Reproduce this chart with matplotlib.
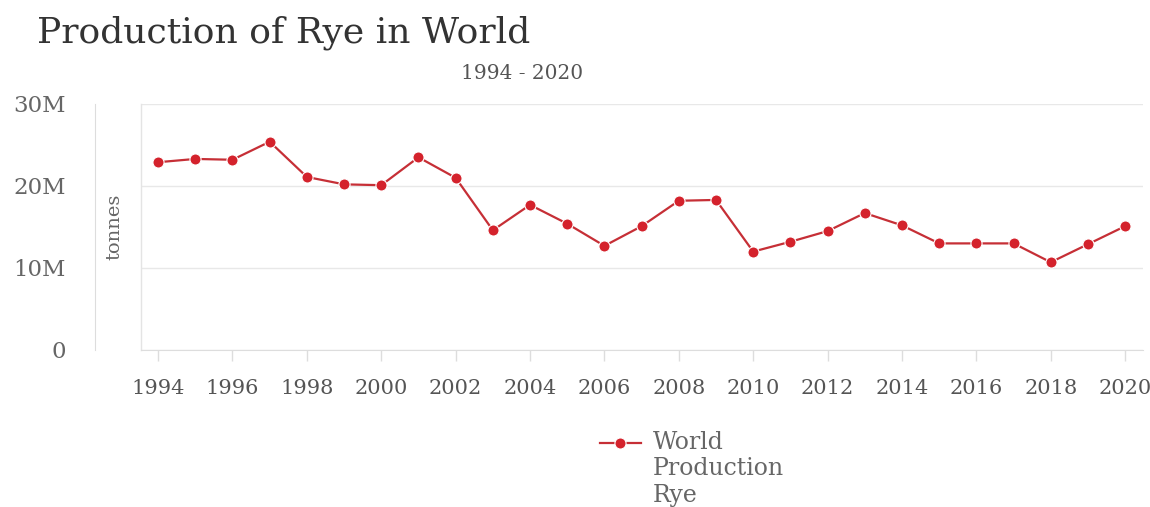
import matplotlib
matplotlib.use("Agg")
import matplotlib.pyplot as plt
from matplotlib.ticker import FuncFormatter
from matplotlib.legend_handler import HandlerLine2D

# data (million tonnes)
years = list(range(1994, 2021))
production = [22.9, 23.3, 23.2, 25.4, 21.1, 20.2, 20.1, 23.5, 21.0, 14.6,
              17.7, 15.4, 12.7, 15.1, 18.2, 18.3, 12.0, 13.2, 14.5, 16.7,
              15.2, 13.0, 13.0, 13.0, 10.7, 12.9, 15.1]
production = [v * 1e6 for v in production]
year_ticks = list(range(1994, 2021, 2))
y_ticks = [0, 10e6, 20e6, 30e6]


# put the legend handle beside the first line of a wrapped label
class FirstLineHandler(HandlerLine2D):
    def create_artists(self, legend, orig_handle, xdescent, ydescent, width, height,
                       fontsize, trans):
        arts = super().create_artists(legend, orig_handle, xdescent, ydescent, width,
                                      height, fontsize, trans)
        for a in arts:
            a.set_ydata([y + 19.5 for y in a.get_ydata()])
        return arts


plt.rcParams['font.family'] = ['DejaVu Serif']

fig = plt.figure(figsize=(11.5, 5.07), dpi=100)
ax = fig.add_axes([141 / 1150, 1 - 350 / 507, (1143 - 141) / 1150, (350 - 104) / 507])

red = '#c62f36'
line, = ax.plot(years, production, color=red, lw=1.6, marker='o', ms=8,
                markerfacecolor='#d4222c', markeredgecolor='white', markeredgewidth=0.8,
                label='World\nProduction\nRye', zorder=3)

ax.set_xlim(1993.54, 2020.48)
ax.set_ylim(0, 30e6)
ax.set_xticks(year_ticks)
ax.set_yticks(y_ticks)
ax.yaxis.set_major_formatter(FuncFormatter(lambda v, p: '0' if v == 0 else f'{int(v / 1e6)}M'))

ax.grid(axis='y', color='#e8e8e8', lw=1)
ax.set_axisbelow(True)
for s in ['top', 'right']:
    ax.spines[s].set_visible(False)
ax.spines['bottom'].set_color('#dddddd')
ax.spines['left'].set_color('#dddddd')
ax.spines['left'].set_position(('outward', 33))
# inner frame line at the left edge of the plot area
ax.plot([0, 0], [0, 1], transform=ax.transAxes, color='#e4e4e4', lw=1, clip_on=False)

ax.tick_params(axis='x', colors='#dddddd', length=8, width=1, labelcolor='#555555',
               labelsize=15, pad=13)
ax.tick_params(axis='y', length=0, labelcolor='#666666', labelsize=16.5, pad=21)

ax.set_ylabel('tonnes', color='#666666', fontsize=14)
ax.yaxis.set_label_coords(-0.018, 0.5)

fig.text(37 / 1150, 1 - 33 / 507, 'Production of Rye in World', fontsize=26,
         color='#333333', va='center', ha='left')
fig.text(522 / 1150, 1 - 73 / 507, '1994 - 2020', fontsize=14.5,
         color='#555555', va='center', ha='center')

leg = fig.legend(handles=[line], loc='upper left', bbox_to_anchor=(588 / 1150, 1 - 419 / 507),
                 frameon=False, fontsize=17, handlelength=1.75, handletextpad=0.5,
                 labelcolor='#666666', borderpad=0,
                 handler_map={line: FirstLineHandler()})
for t in leg.get_texts():
    t.set_linespacing(1.2)

fig.savefig('out.png', dpi=100, facecolor='white')
